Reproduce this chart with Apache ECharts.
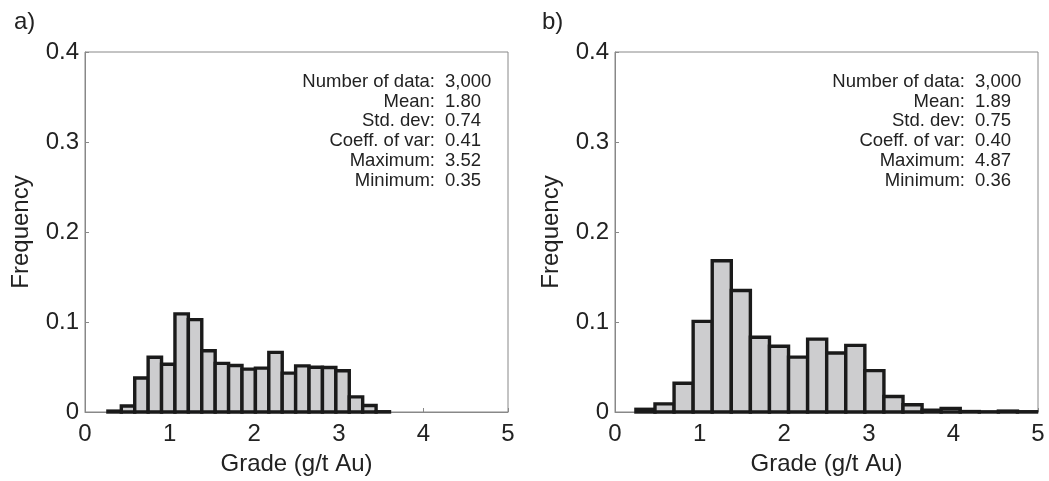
<!DOCTYPE html>
<html>
<head>
<meta charset="utf-8">
<script src="https://cdn.jsdelivr.net/npm/echarts@6/dist/echarts.min.js"></script>
<style>
  html, body { margin: 0; padding: 0; background: #fff; }
  #chart { width: 1049px; height: 481px; }
</style>
</head>
<body>
<div id="chart"></div>
<script>
// histogram a): 21 bins centred from min to max
var minA = 0.35, maxA = 3.52;
var freqA = [0.001, 0.0066, 0.0377, 0.0608, 0.053, 0.109, 0.1026, 0.068, 0.054, 0.0516, 0.0476,
             0.0487, 0.0663, 0.0432, 0.0513, 0.0498, 0.0495, 0.0458, 0.0168, 0.0073, 0.0003];
// histogram b)
var minB = 0.36, maxB = 4.87;
var freqB = [0.003, 0.009, 0.032, 0.1007, 0.168, 0.135, 0.083, 0.073, 0.061, 0.081, 0.0656,
             0.074, 0.046, 0.0173, 0.008, 0.002, 0.004, 0.0005, 0.0002, 0.001, 0.0003];

var xTicks = [0, 1, 2, 3, 4, 5];
var yTicks = [0, 0.1, 0.2, 0.3, 0.4];

var statLabels = ['Number of data:', 'Mean:', 'Std. dev:', 'Coeff. of var:', 'Maximum:', 'Minimum:'];
var statsA = ['3,000', '1.80', '0.74', '0.41', '3.52', '0.35'];
var statsB = ['3,000', '1.89', '0.75', '0.40', '4.87', '0.36'];

var panelLabels = ['a)', 'b)'];

var font = "'Liberation Sans', Arial, sans-serif";

function binData(freq, lo, hi) {
    var w = (hi - lo) / (freq.length - 1);
    return freq.map(function (f, i) { return [lo + i * w, f]; });
}

function renderHist(w) {
    return function (params, api) {
        var c = api.value(0), v = api.value(1);
        var p0 = api.coord([c - w / 2, v]);
        var p1 = api.coord([c + w / 2, 0]);
        return {
            type: 'rect',
            shape: { x: p0[0], y: p0[1], width: p1[0] - p0[0], height: p1[1] - p0[1] },
            style: { fill: '#cdcdcf', stroke: '#1a1a1a', lineWidth: 3.4 }
        };
    };
}

var gridLefts = [85, 615];

function makeX(i) {
    return {
        type: 'value', gridIndex: i, min: 0, max: 5, interval: 1,
        name: 'Grade (g/t Au)', nameLocation: 'middle', nameGap: 40,
        nameTextStyle: { fontSize: 24, color: '#222', fontFamily: font },
        axisLine: { show: true, lineStyle: { color: '#888', width: 1 } },
        axisTick: { show: true, inside: true, length: 4, lineStyle: { color: '#888' } },
        axisLabel: { fontSize: 24, color: '#222', fontFamily: font, margin: 10,
            formatter: function (v) { return xTicks.indexOf(v) >= 0 ? String(v) : ''; } },
        splitLine: { show: false }
    };
}

function makeY(i) {
    return {
        type: 'value', gridIndex: i, min: 0, max: 0.4, interval: 0.1,
        name: 'Frequency', nameLocation: 'middle', nameGap: 52,
        nameTextStyle: { fontSize: 24, color: '#222', fontFamily: font },
        axisLine: { show: true, lineStyle: { color: '#888', width: 1 } },
        axisTick: { show: true, inside: true, length: 4, lineStyle: { color: '#888' } },
        axisLabel: { fontSize: 24, color: '#222', fontFamily: font, margin: 6,
            formatter: function (v) { return yTicks.indexOf(+v.toFixed(1)) >= 0 ? String(+v.toFixed(1)) : ''; } },
        splitLine: { show: false }
    };
}

var graphics = [];
[statsA, statsB].forEach(function (vals, p) {
    var dx = gridLefts[p] - gridLefts[0];
    statLabels.forEach(function (lab, k) {
        var y = 82 + k * 19.7;
        graphics.push({ type: 'text', x: 435 + dx, y: y,
            style: { text: lab, fontSize: 18.5, fontFamily: font, fill: '#222', align: 'right', verticalAlign: 'middle' } });
        graphics.push({ type: 'text', x: 445 + dx, y: y,
            style: { text: vals[k], fontSize: 18.5, fontFamily: font, fill: '#222', align: 'left', verticalAlign: 'middle' } });
    });
});
graphics.push({ type: 'text', x: 14, y: 22, style: { text: panelLabels[0], fontSize: 24, fontFamily: font, fill: '#222', verticalAlign: 'middle' } });
graphics.push({ type: 'text', x: 542, y: 22, style: { text: panelLabels[1], fontSize: 24, fontFamily: font, fill: '#222', verticalAlign: 'middle' } });

var chart = echarts.init(document.getElementById('chart'), null, { renderer: 'canvas' });
chart.setOption({
    animation: false,
    backgroundColor: '#fff',
    grid: gridLefts.map(function (l) {
        return { left: l, top: 52, width: 423, height: 361, show: true,
                 borderColor: '#888', borderWidth: 1, backgroundColor: 'transparent' };
    }),
    xAxis: [makeX(0), makeX(1)],
    yAxis: [makeY(0), makeY(1)],
    series: [
        { type: 'custom', xAxisIndex: 0, yAxisIndex: 0, encode: { x: 0, y: 1 },
          renderItem: renderHist((maxA - minA) / (freqA.length - 1)), data: binData(freqA, minA, maxA) },
        { type: 'custom', xAxisIndex: 1, yAxisIndex: 1, encode: { x: 0, y: 1 },
          renderItem: renderHist((maxB - minB) / (freqB.length - 1)), data: binData(freqB, minB, maxB) }
    ],
    graphic: graphics
});
</script>
</body>
</html>
